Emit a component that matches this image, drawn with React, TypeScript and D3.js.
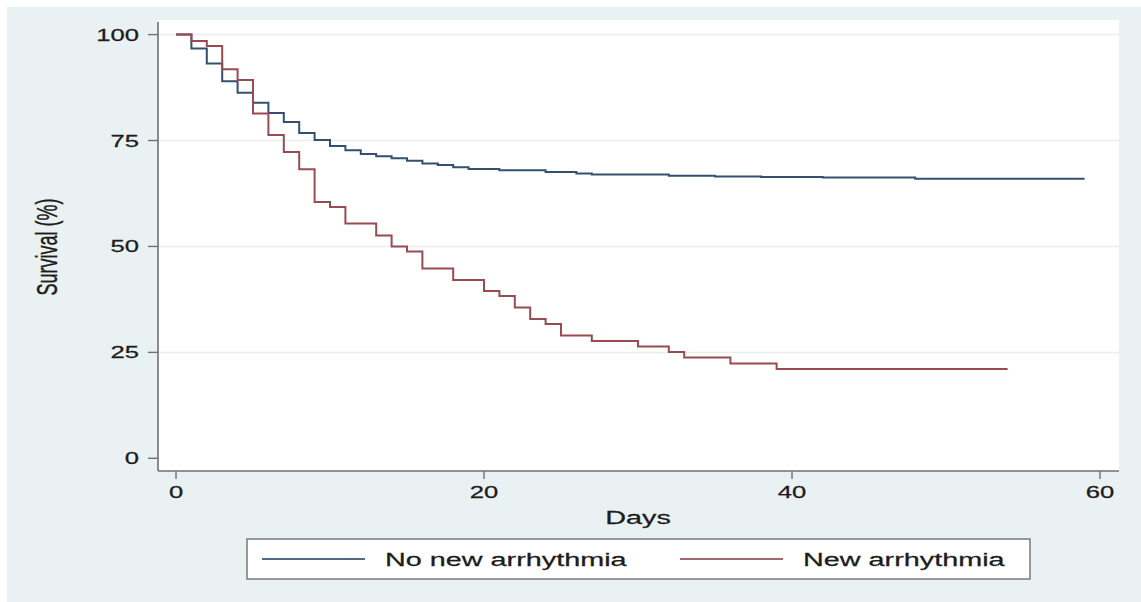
import React, {useEffect, useRef} from 'react';
import * as d3 from "d3";

// Kaplan-Meier steps (day of step, survival % after it)
const noArrDays = [0, 1, 2, 3, 4, 5, 6, 7, 8, 9, 10, 11, 12, 13, 14, 15, 16, 17, 18, 19, 21, 24, 26, 27, 32, 35, 38, 42, 48, 59]
const noArrSurv = [100, 96.7, 93.2, 89.0, 86.3, 83.9, 81.5, 79.4, 76.8, 75.1, 73.7, 72.7, 71.8, 71.3, 70.8, 70.2, 69.6, 69.2, 68.7, 68.3, 68.0, 67.6, 67.2, 67.0, 66.7, 66.5, 66.4, 66.3, 66.0, 66.0]
const arrDays = [0, 1, 2, 3, 4, 5, 6, 7, 8, 9, 10, 11, 13, 14, 15, 16, 18, 20, 21, 22, 23, 24, 25, 27, 30, 32, 33, 36, 39, 54]
const arrSurv = [100, 98.5, 97.3, 91.8, 89.3, 81.4, 76.3, 72.3, 68.2, 60.5, 59.3, 55.4, 52.6, 50.0, 48.8, 44.8, 42.1, 39.5, 38.3, 35.6, 32.9, 31.7, 29.0, 27.7, 26.4, 25.1, 23.8, 22.4, 21.1, 21.1]
const xTicks = [0, 20, 40, 60]
const yTicks = [0, 25, 50, 75, 100]
const seriesNames = ["No new arrhythmia", "New arrhythmia"]
const seriesColors = ["#34506f", "#9a4a53"]

const App = () => {
    const svgRef = useRef(null)
    const width = 1141
    const height = 602

    useEffect(() => {
        const svg = d3.select(svgRef.current)
        svg.selectAll("*").remove()
        const font = "'Liberation Sans', Arial, Helvetica, sans-serif"
        const stretch = 1.6 // the source picture is stretched sideways

        // page + stata-like background
        svg.append("rect").attr("width", width).attr("height", height).attr("fill", "#ffffff")
        svg.append("rect").attr("x", 7).attr("y", 7).attr("width", width - 7).attr("height", height - 7).attr("fill", "#eaf1f3")

        const left = 158, right = 1119, top = 20, bottom = 471
        svg.append("rect")
            .attr("x", left).attr("y", top)
            .attr("width", right - left).attr("height", bottom - top)
            .attr("fill", "#ffffff")

        const xScale = d3.scaleLinear().domain([0, 60]).range([176, 1100])
        const yScale = d3.scaleLinear().domain([0, 100]).range([458.3, 34.6])

        // grid
        svg.selectAll(".grid")
            .data(yTicks.filter(t => t > 0))
            .join("line")
            .attr("x1", left).attr("x2", right)
            .attr("y1", d => yScale(d)).attr("y2", d => yScale(d))
            .attr("stroke", "#ececec")
            .attr("stroke-width", 1.5)

        const label = (x, y, txt, anchor, size, rotate = false) =>
            svg.append("text")
                .attr("transform", `translate(${x},${y}) scale(${stretch},1)${rotate ? " rotate(-90)" : ""}`)
                .attr("text-anchor", anchor)
                .attr("font-family", font)
                .attr("font-size", size)
                .attr("fill", "#1c1c1c")
                .attr("stroke", "#1c1c1c")
                .attr("stroke-width", 0.25)
                .text(txt)

        // axes
        svg.append("line").attr("x1", left).attr("x2", left).attr("y1", top + 2).attr("y2", bottom)
            .attr("stroke", "#707070").attr("stroke-width", 1.6)
        svg.append("line").attr("x1", left).attr("x2", right).attr("y1", bottom).attr("y2", bottom)
            .attr("stroke", "#707070").attr("stroke-width", 1.6)
        yTicks.forEach(t => {
            svg.append("line").attr("x1", left - 10).attr("x2", left)
                .attr("y1", yScale(t)).attr("y2", yScale(t))
                .attr("stroke", "#707070").attr("stroke-width", 1.4)
            label(139, yScale(t) + 6, t, "end", 16)
        })
        xTicks.forEach(t => {
            svg.append("line").attr("x1", xScale(t)).attr("x2", xScale(t))
                .attr("y1", bottom).attr("y2", bottom + 8)
                .attr("stroke", "#707070").attr("stroke-width", 1.4)
            label(xScale(t), 498, t, "middle", 16)
        })
        label(638, 524, "Days", "middle", 18)
        label(57, 247, "Survival (%)", "middle", 18, true)

        // survival curves
        const stepLine = d3.line()
            .x(d => xScale(d[0]))
            .y(d => yScale(d[1]))
            .curve(d3.curveStepAfter)
        const series = [
            d3.zip(noArrDays, noArrSurv),
            d3.zip(arrDays, arrSurv),
        ]
        svg.selectAll(".curve")
            .data(series)
            .join("path")
            .attr("d", d => stepLine(d))
            .attr("fill", "none")
            .attr("stroke", (d, i) => seriesColors[i])
            .attr("stroke-width", 2)

        // legend
        svg.append("rect")
            .attr("x", 247).attr("y", 539).attr("width", 783).attr("height", 40)
            .attr("fill", "#ffffff").attr("stroke", "#7a7a7a").attr("stroke-width", 1.5)
        const legendX = [262, 680]
        seriesNames.forEach((name, i) => {
            svg.append("line")
                .attr("x1", legendX[i]).attr("x2", legendX[i] + 103)
                .attr("y1", 559).attr("y2", 559)
                .attr("stroke", seriesColors[i]).attr("stroke-width", 2).attr("opacity", 0.85)
            label(legendX[i] + 123, 566, name, "start", 18)
        })
    }, [])

    return (
        <svg ref={svgRef} width={width} height={height}
             style={{position: "absolute", left: 0, top: 0}}>
        </svg>
    );
};

export default App;
